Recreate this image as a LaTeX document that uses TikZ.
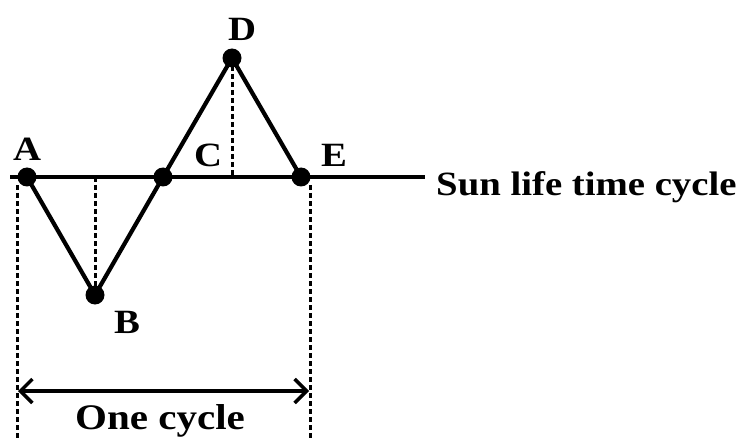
\documentclass[tikz,border=0pt]{standalone}
\usepackage{fontspec}
\setmainfont[FakeStretch=1.14]{Liberation Serif}
\usepackage{tikz}
\usetikzlibrary{arrows.meta,calc,positioning}

\tikzset{
	pt/.style={circle,fill=black,inner sep=0pt,minimum size=19pt},
	lbl/.style={font=\bfseries\fontsize{34}{40}\selectfont,inner sep=0pt},
	guide/.style={line width=3pt,dash pattern=on 5pt off 3pt},
	leg/.style={line width=4.2pt}
}

\begin{document}
\begin{tikzpicture}[x=1pt,y=-1pt,>={Straight Barb[length=12pt,width=24pt,line width=3.5pt]}]
	\useasboundingbox (0,0) rectangle (742,441);
	% points on the cycle
	\node[pt] (A) at (27,177) {};
	\node[pt] (B) at (95,295) {};
	\node[pt] (M) at (163,177) {};
	\node[pt] (D) at (232,58) {};
	\node[pt] (E) at (301,177) {};
	\coordinate (L0) at (10,177);
	\coordinate (L1) at (425,177);
	\coordinate (Bt) at (95,177);
	\coordinate (C) at (232,177);
	% baseline and zig-zag
	\draw[leg] (L0) -- (L1);
	\draw[leg] (A.center) -- (B.center) -- (M.center) -- (D.center) -- (E.center);
	\draw[guide] (Bt) -- (B.center);
	\draw[guide] (D.center) -- (C);
	% cycle span
	\coordinate (S0) at (17,185);
	\coordinate (S1) at (310,185);
	\draw[guide] (S0) -- (17,441);
	\draw[guide] (S1) -- (310,441);
	\coordinate (R0) at (18,391);
	\coordinate (R1) at (309,391);
	\draw[line width=3.5pt,<->] (R0) -- (R1);
	% labels
	\node[lbl] (tA) at (27,149) {A};
	\node[lbl] (tB) at (127,322) {B};
	\node[lbl] (tC) at (208,155) {C};
	\node[lbl] (tD) at (242,29) {D};
	\node[lbl] (tE) at (334,155) {E};
	\node[lbl,anchor=west] (sun) at (436,187) {Sun life time cycle};
	\node[lbl,font=\bfseries\fontsize{36}{40}\selectfont] (one) at (160,421) {One cycle};
\end{tikzpicture}
\end{document}
